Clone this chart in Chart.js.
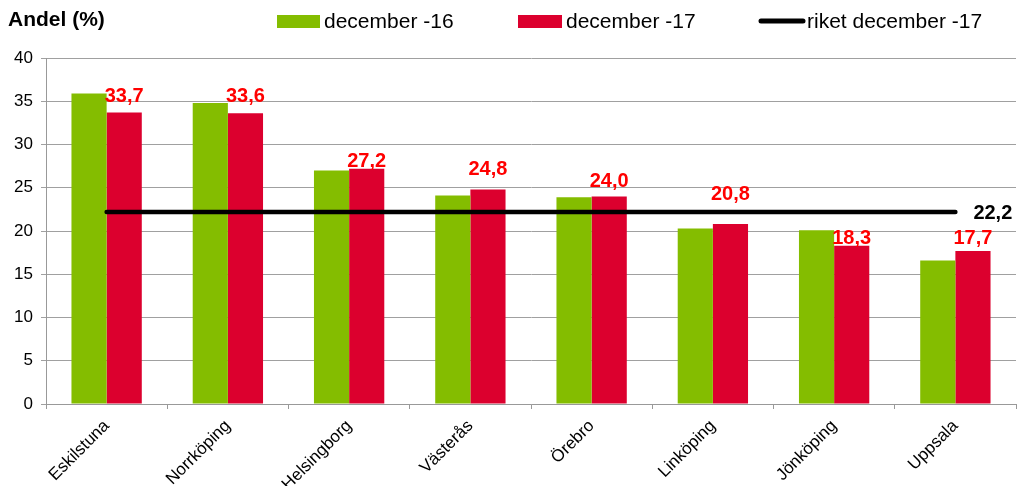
<!DOCTYPE html>
<html>
<head>
<meta charset="utf-8">
<script src="https://cdn.jsdelivr.net/npm/chart.js@4"></script>
<style>
  html, body { margin: 0; padding: 0; background: #fff; }
  #wrap { position: relative; width: 1017px; height: 486px; }
</style>
</head>
<body>
<div id="wrap"><canvas id="miGrafica" width="1017" height="486"></canvas></div>
<script>
// Datos
const kommuner = ["Eskilstuna", "Norrköping", "Helsingborg", "Västerås", "Örebro", "Linköping", "Jönköping", "Uppsala"];
const dec16 = [35.9, 34.8, 27.0, 24.1, 23.9, 20.3, 20.1, 16.6];
const dec17 = [33.7, 33.6, 27.2, 24.8, 24.0, 20.8, 18.3, 17.7];
const riket = 22.2;
const yTicks = [0, 5, 10, 15, 20, 25, 30, 35, 40];

const GREEN = '#84BD00';
const RED = '#DC002E';
const FONT = '"Liberation Sans", Arial, sans-serif';

// avstånd (px) mellan stapeltopp och etikett, som i originalet
const labelGap = [10, 11, 2, 14, 9, 24, 2, 7];

// Rubrik, förklaring och etiketter
const extras = {
    id: 'extras',
    afterDraw(chart) {
        const c = chart.ctx;
        c.save();
        c.textBaseline = 'alphabetic';
        c.textAlign = 'left';
        c.fillStyle = '#000';
        c.font = 'bold 21px ' + FONT;
        c.fillText('Andel (%)', 8, 26);

        c.font = '21px ' + FONT;
        c.fillStyle = GREEN;
        c.fillRect(277, 15, 43, 13);
        c.fillStyle = '#000';
        c.fillText('december -16', 324, 28);
        c.fillStyle = RED;
        c.fillRect(518, 15, 44, 13);
        c.fillStyle = '#000';
        c.fillText('december -17', 566, 28);
        c.lineWidth = 5;
        c.lineCap = 'round';
        c.beginPath();
        c.moveTo(761, 21);
        c.lineTo(803, 21);
        c.stroke();
        c.fillText('riket december -17', 807, 28);

        // Värden ovanför röda staplar
        c.font = 'bold 20px ' + FONT;
        c.fillStyle = '#FF0000';
        c.textAlign = 'center';
        chart.getDatasetMeta(1).data.forEach((bar, i) => {
            c.fillText(dec17[i].toFixed(1).replace('.', ','), bar.x, bar.y - labelGap[i]);
        });

        // Riket-värde
        const pts = chart.getDatasetMeta(2).data;
        const last = pts[pts.length - 1];
        c.fillStyle = '#000';
        c.textAlign = 'left';
        c.fillText(String(riket).replace('.', ','), last.x + 18, last.y + 7);
        c.restore();
    }
};

const ctx = document.getElementById('miGrafica').getContext('2d');
const myChart = new Chart(ctx, {
    type: 'bar',
    data: {
        labels: kommuner,
        datasets: [
            { label: 'december -16', data: dec16, backgroundColor: GREEN, categoryPercentage: 0.58, barPercentage: 1, order: 2 },
            { label: 'december -17', data: dec17, backgroundColor: RED, categoryPercentage: 0.58, barPercentage: 1, order: 2 },
            { type: 'line', label: 'riket december -17', data: kommuner.map(() => riket), borderColor: '#000', borderWidth: 4.5, pointRadius: 0, borderCapStyle: 'round', order: 1 }
        ]
    },
    options: {
        responsive: false,
        animation: false,
        layout: { padding: { top: 58, right: 1, left: 0, bottom: 0 } },
        plugins: { legend: { display: false }, tooltip: { enabled: false } },
        scales: {
            x: {
                grid: { display: true, drawOnChartArea: false, drawTicks: true, tickLength: 5, color: '#999', offset: true },
                border: { color: '#999', width: 1 },
                ticks: { color: '#000', font: { family: FONT, size: 17 }, maxRotation: 45, minRotation: 45, padding: 7 },
                afterFit(scale) { scale.height = 82; }
            },
            y: {
                min: 0, max: 40,
                afterBuildTicks(scale) { scale.ticks = yTicks.map(v => ({ value: v })); },
                grid: { color: '#a0a0a0', tickLength: 5 },
                border: { color: '#999', width: 1 },
                ticks: { color: '#000', font: { family: FONT, size: 17 }, padding: 8 },
                afterFit(scale) { scale.width = 46; }
            }
        }
    },
    plugins: [extras]
});
</script>
</body>
</html>
